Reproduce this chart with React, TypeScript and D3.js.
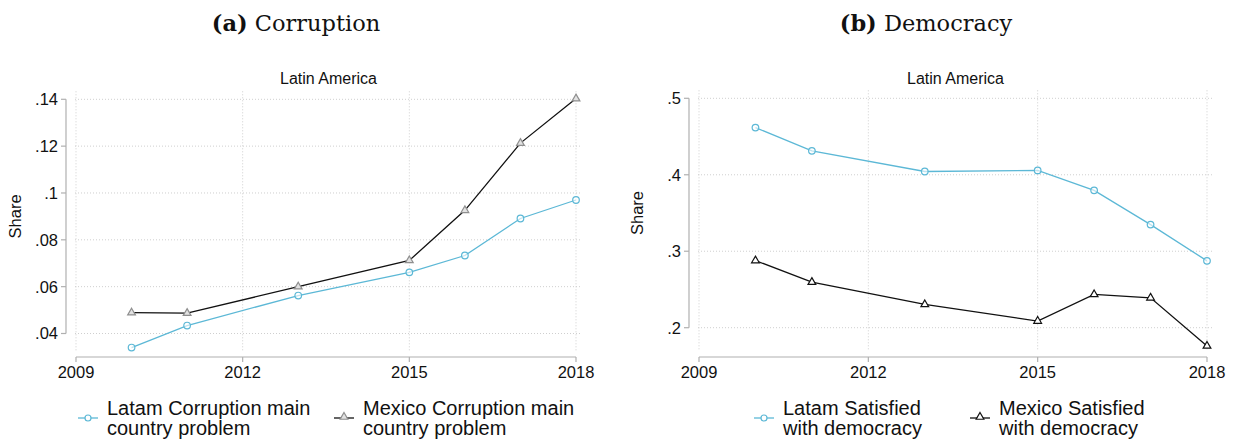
import * as d3 from "d3";
import React from "react";

// data
const years = [2010, 2011, 2013, 2015, 2016, 2017, 2018];
const xTicks = [2009, 2012, 2015, 2018];

const latamCorruption = [0.034, 0.0434, 0.0562, 0.0661, 0.0733, 0.0891, 0.097];
const mexicoCorruption = [0.0489, 0.0487, 0.06, 0.0712, 0.0926, 0.1213, 0.1403];
const corruptionTicks = [0.04, 0.06, 0.08, 0.1, 0.12, 0.14];

const latamDemocracy = [0.4617, 0.4313, 0.4043, 0.4057, 0.3796, 0.3348, 0.2874];
const mexicoDemocracy = [0.2878, 0.2596, 0.2304, 0.2087, 0.2435, 0.2391, 0.1761];
const democracyTicks = [0.2, 0.3, 0.4, 0.5];

const panelTitles = [["(a)", " Corruption"], ["(b)", " Democracy"]];
const legendCorruption = [["Latam Corruption main", "country problem"], ["Mexico Corruption main", "country problem"]];
const legendDemocracy = [["Latam Satisfied", "with democracy"], ["Mexico Satisfied", "with democracy"]];

const BLUE = "#5cb8d6";
const SANS = "'Liberation Sans', Arial, Helvetica, sans-serif";
const fmt = (v: number) => String(+v.toFixed(2)).replace(/^0/, "");

type PanelProps = {
  left: number;
  titleX: number;
  title: string[];
  latam: number[];
  mexico: number[];
  yTicks: number[];
  xRange: [number, number];
  yRange: [number, number];
  axisX: number;
  triStroke: string;
  triFill: string;
  legend: string[][];
  legendX: number[];
};

const tri = d3.symbol().type(d3.symbolTriangle).size(26)();

const Panel = (p: PanelProps) => {
  const x = d3.scaleLinear().domain([2009, 2018]).range(p.xRange);
  const y = d3.scaleLinear().domain([p.yTicks[0], p.yTicks[p.yTicks.length - 1]]).range(p.yRange);
  const line = d3.line<number>().x((_, i) => x(years[i])).y((d) => y(d));
  const gx0 = p.xRange[0] - 1, gx1 = p.xRange[1] + 6;
  const gy0 = p.yRange[1] - 8, gy1 = 351;
  const axisY = 357;

  return (
    <g>
      <text x={p.titleX} y={31} textAnchor="middle" fontFamily="'DejaVu Serif', serif" fontSize={22.5} fill="#111">
        <tspan fontWeight="bold">{p.title[0]}</tspan>
        <tspan>{p.title[1]}</tspan>
      </text>
      <text x={(gx0 + gx1) / 2} y={84} textAnchor="middle" fontFamily={SANS} fontSize={16} fill="#111">
        Latin America
      </text>

      {/* grid */}
      {p.yTicks.map((t) => (
        <line key={"gy" + t} x1={gx0} x2={gx1} y1={y(t)} y2={y(t)} stroke="#cfcfcf" strokeWidth={1} strokeDasharray="1,2" />
      ))}
      {xTicks.map((t) => (
        <line key={"gx" + t} x1={x(t)} x2={x(t)} y1={gy0} y2={gy1} stroke="#cfcfcf" strokeWidth={1} strokeDasharray="1,2" />
      ))}

      {/* y axis */}
      <line x1={p.axisX} x2={p.axisX} y1={y(p.yTicks[p.yTicks.length - 1])} y2={y(p.yTicks[0])} stroke="#b0b0b0" strokeWidth={1.2} />
      {p.yTicks.map((t) => (
        <g key={"ty" + t}>
          <line x1={p.axisX - 5} x2={p.axisX} y1={y(t)} y2={y(t)} stroke="#b0b0b0" strokeWidth={1.2} />
          <text x={p.axisX - 8} y={y(t)} dy="0.36em" textAnchor="end" fontFamily={SANS} fontSize={16.5} fill="#111">
            {fmt(t)}
          </text>
        </g>
      ))}
      <text transform={`translate(${p.left + 21},${(y(p.yTicks[0]) + y(p.yTicks[p.yTicks.length - 1])) / 2}) rotate(-90)`}
        textAnchor="middle" fontFamily={SANS} fontSize={16.5} fill="#111">Share</text>

      {/* x axis */}
      <line x1={x(2009)} x2={x(2018)} y1={axisY} y2={axisY} stroke="#b0b0b0" strokeWidth={1.2} />
      {xTicks.map((t) => (
        <g key={"tx" + t}>
          <line x1={x(t)} x2={x(t)} y1={axisY} y2={axisY + 5} stroke="#b0b0b0" strokeWidth={1.2} />
          <text x={x(t)} y={377.5} textAnchor="middle" fontFamily={SANS} fontSize={16.5} fill="#111">{t}</text>
        </g>
      ))}

      {/* series */}
      <path d={line(p.latam) || ""} fill="none" stroke={BLUE} strokeWidth={1.3} />
      <path d={line(p.mexico) || ""} fill="none" stroke="#111" strokeWidth={1.3} />
      {p.latam.map((v, i) => (
        <circle key={"c" + i} cx={x(years[i])} cy={y(v)} r={3.3} fill="white" fillOpacity={0.6} stroke={BLUE} strokeWidth={1.2} />
      ))}
      {p.mexico.map((v, i) => (
        <path key={"t" + i} d={tri || ""} transform={`translate(${x(years[i])},${y(v)})`} fill={p.triFill} stroke={p.triStroke} strokeWidth={1.2} />
      ))}

      {/* legend */}
      {p.legend.map((lines, k) => {
        const lx = p.legendX[k];
        const ly = 418;
        return (
          <g key={"lg" + k}>
            <line x1={lx} x2={lx + 20} y1={ly} y2={ly} stroke={k === 0 ? BLUE : "#111"} strokeWidth={1.3} />
            {k === 0 ? (
              <circle cx={lx + 10} cy={ly} r={3} fill="white" stroke={BLUE} strokeWidth={1.2} />
            ) : (
              <path d={tri || ""} transform={`translate(${lx + 10},${ly - 1})`} fill={p.triFill} stroke={p.triStroke} strokeWidth={1.2} />
            )}
            <text x={lx + 29} y={415} fontFamily={SANS} fontSize={20} fill="#111">
              <tspan x={lx + 29} y={415}>{lines[0]}</tspan>
              <tspan x={lx + 29} y={435}>{lines[1]}</tspan>
            </text>
          </g>
        );
      })}
    </g>
  );
};

export default function App() {
  return (
    <svg width={1233} height={440} style={{ position: "absolute", left: 0, top: 0, background: "white" }}>
      <rect width={1233} height={440} fill="white" />
      <Panel left={0} titleX={296} title={panelTitles[0]} latam={latamCorruption} mexico={mexicoCorruption}
        yTicks={corruptionTicks} xRange={[76, 576]} yRange={[333.5, 99.3]} axisX={66}
        triStroke="#8f8f8f" triFill="#e2e2e2" legend={legendCorruption} legendX={[78, 334]} />
      <Panel left={622} titleX={926} title={panelTitles[1]} latam={latamDemocracy} mexico={mexicoDemocracy}
        yTicks={democracyTicks} xRange={[699, 1207]} yRange={[327.7, 98.3]} axisX={689}
        triStroke="#111" triFill="white" legend={legendDemocracy} legendX={[754, 970]} />
    </svg>
  );
}
